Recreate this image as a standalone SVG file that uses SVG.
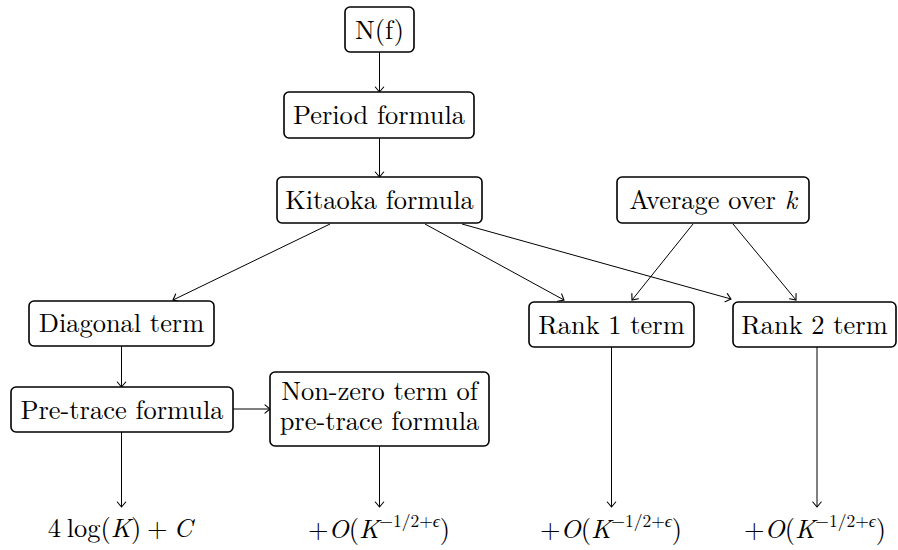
<svg xmlns="http://www.w3.org/2000/svg" width="898" height="550" viewBox="0 0 898 550">
<defs>
<style>
.box{fill:#fff;stroke:#000;stroke-width:1.6}
text{font-size:26.4px;fill:#000;text-anchor:middle}
.i{font-style:italic}
.sup{font-size:17.5px}
.c{stroke:#000;stroke-width:1;fill:none;marker-end:url(#ah)}
</style>
<marker id="ah" markerUnits="userSpaceOnUse" markerWidth="12" markerHeight="12" viewBox="-6 -6 12 12" refX="0" refY="0" orient="auto">
<path d="M-5,-4.2 Q-1.3,-1.1 0,0 Q-1.3,1.1 -5,4.2" fill="none" stroke="#000" stroke-width="1.1" stroke-linecap="round"/>
</marker>
</defs>
<rect width="898" height="550" fill="#fff"/>
<g id="connectors">
<line class="c" x1="379.5" y1="52" x2="379.5" y2="92"/>
<line class="c" x1="379.5" y1="138" x2="379.5" y2="177"/>
<line class="c" x1="330" y1="224" x2="173" y2="300"/>
<line class="c" x1="425" y1="224" x2="564" y2="300"/>
<line class="c" x1="462" y1="224" x2="731" y2="299"/>
<line class="c" x1="693" y1="224" x2="632" y2="300"/>
<line class="c" x1="733" y1="224" x2="796" y2="300"/>
<line class="c" x1="121.5" y1="346" x2="121.5" y2="387"/>
<line class="c" x1="233" y1="409" x2="270" y2="409"/>
<line class="c" x1="121.5" y1="432" x2="121.5" y2="507"/>
<line class="c" x1="379.5" y1="446" x2="379.5" y2="507"/>
<line class="c" x1="611.5" y1="347" x2="611.5" y2="507"/>
<line class="c" x1="817" y1="347" x2="817" y2="507"/>
</g>
<g font-family="Latin Modern Roman, Liberation Serif, serif">
<g id="n-nf"><rect class="box" x="345" y="7" width="69" height="45" rx="5"/><text x="379.5" y="39">N(f)</text></g>
<g id="n-period"><rect class="box" x="284" y="92" width="190" height="46" rx="5"/><text x="379" y="124">Period formula</text></g>
<g id="n-kitaoka"><rect class="box" x="277" y="177" width="205" height="46" rx="5"/><text x="379.5" y="209">Kitaoka formula</text></g>
<g id="n-average"><rect class="box" x="617" y="177" width="192" height="46" rx="5"/><text x="713" y="209">Average over <tspan class="i">k</tspan></text></g>
<g id="n-diagonal"><rect class="box" x="29" y="301" width="185" height="45" rx="5"/><text x="121.5" y="332">Diagonal term</text></g>
<g id="n-rank1"><rect class="box" x="529" y="302" width="165" height="45" rx="5"/><text x="611.5" y="334">Rank 1 term</text></g>
<g id="n-rank2"><rect class="box" x="733" y="302" width="163" height="45" rx="5"/><text x="814.5" y="334">Rank 2 term</text></g>
<g id="n-pretrace"><rect class="box" x="11" y="387" width="222" height="45" rx="5"/><text x="122" y="419">Pre-trace formula</text></g>
<g id="n-nonzero"><rect class="box" x="270" y="372" width="219" height="74" rx="5"/><text x="379.5" y="400">Non-zero term of</text><text x="379.5" y="430">pre-trace formula</text></g>
<g id="n-res1"><text x="120" y="537" word-spacing="-3">4 log(<tspan class="i">K</tspan>) + <tspan class="i">C</tspan></text></g>
<g id="n-res2"><text x="379" y="538">+<tspan class="i">O</tspan>(<tspan class="i">K</tspan><tspan class="sup" dy="-11">−1/2+<tspan class="i">ϵ</tspan></tspan><tspan dy="11">)</tspan></text></g>
<g id="n-res3"><text x="611" y="538">+<tspan class="i">O</tspan>(<tspan class="i">K</tspan><tspan class="sup" dy="-11">−1/2+<tspan class="i">ϵ</tspan></tspan><tspan dy="11">)</tspan></text></g>
<g id="n-res4"><text x="815" y="538">+<tspan class="i">O</tspan>(<tspan class="i">K</tspan><tspan class="sup" dy="-11">−1/2+<tspan class="i">ϵ</tspan></tspan><tspan dy="11">)</tspan></text></g>
</g>
</svg>
